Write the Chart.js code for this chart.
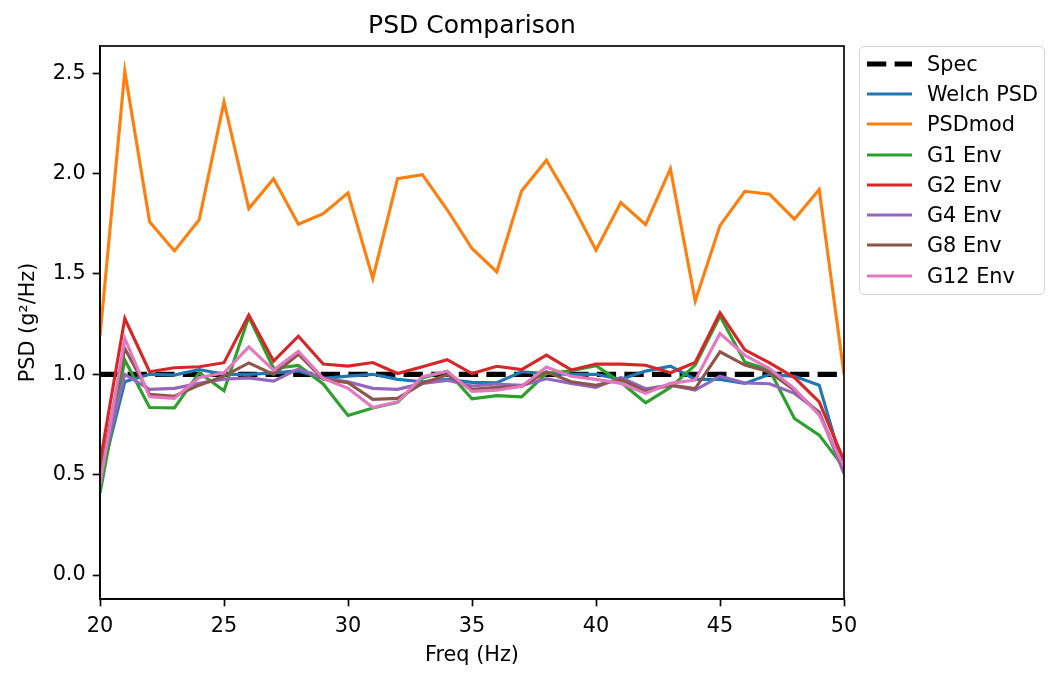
<!DOCTYPE html>
<html>
<head>
<meta charset="utf-8">
<script src="https://cdn.jsdelivr.net/npm/chart.js@4.4.1/dist/chart.umd.min.js"></script>
<style>
  html, body { margin: 0; padding: 0; background: #fff; }
  #wrap { position: relative; width: 1060px; height: 678px; }
  #legend { position: absolute; left: 859px; top: 46px; width: 184px; height: 247px;
            border: 1.5px solid #d4d4d4; border-radius: 5px; background: rgba(255,255,255,0.8);
            font-family: 'DejaVu Sans'; font-size: 20.8px; color: #000; }
  .row { position: absolute; left: 0; height: 30px; width: 184px; }
  .row svg { position: absolute; left: 6px; top: 0; }
  .row span { position: absolute; left: 67px; top: 2px; line-height: 26px; white-space: nowrap; }
</style>
</head>
<body>
<div id="wrap">
  <canvas id="c" width="1060" height="678"></canvas>
  <div id="legend"></div>
</div>
<script>
// ---- Data ----
const freqs = [20,21,22,23,24,25,26,27,28,29,30,31,32,33,34,35,36,37,38,39,40,41,42,43,44,45,46,47,48,49,50];
const specFreqs = [20, 50];
const specValues = [1.0, 1.0];
const welchPSD = [0.47,0.963,1.0,0.996,1.024,1.0,1.0,1.007,1.017,0.98,0.991,1.0,0.975,0.963,0.975,0.96,0.958,1.013,1.004,1.0,1.0,0.975,1.016,1.041,0.975,0.975,0.955,1.0,0.99,0.946,0.52];
const psdMod = [1.19,2.51,1.76,1.615,1.77,2.357,1.826,1.975,1.748,1.801,1.904,1.478,1.975,1.995,1.82,1.627,1.511,1.914,2.067,1.856,1.619,1.856,1.746,2.025,1.365,1.741,1.912,1.897,1.773,1.921,1.0];
const g1Env = [0.407,1.071,0.835,0.833,1.008,0.918,1.287,1.029,1.044,0.952,0.795,0.832,0.86,0.982,1.015,0.878,0.894,0.888,1.004,1.018,1.043,0.96,0.858,0.935,1.046,1.29,1.062,1.021,0.78,0.697,0.535];
const g2Env = [0.56,1.278,1.013,1.033,1.038,1.058,1.295,1.066,1.19,1.051,1.041,1.059,1.004,1.038,1.073,1.004,1.04,1.024,1.096,1.022,1.051,1.051,1.045,1.008,1.059,1.306,1.122,1.057,0.984,0.863,0.57];
const g4Env = [0.5,1.0,0.925,0.93,0.955,0.976,0.982,0.966,1.027,0.98,0.963,0.93,0.925,0.955,0.97,0.942,0.952,0.945,0.978,0.955,0.935,0.985,0.928,0.946,0.921,0.991,0.957,0.953,0.905,0.812,0.505];
const g8Env = [0.5,1.129,0.901,0.891,0.946,0.991,1.057,1.0,1.1,0.975,0.958,0.875,0.88,0.955,0.998,0.925,0.935,0.94,1.013,0.963,0.945,0.975,0.915,0.946,0.929,1.112,1.046,1.012,0.921,0.805,0.53];
const g12Env = [0.45,1.179,0.888,0.88,0.984,1.007,1.137,1.021,1.115,0.98,0.93,0.835,0.863,0.988,1.015,0.915,0.921,0.94,1.036,0.99,0.975,0.955,0.905,0.955,0.971,1.203,1.095,1.029,0.929,0.797,0.539];
const xTickValues = [20,25,30,35,40,45,50];
const yTickValues = [0.0,0.5,1.0,1.5,2.0,2.5];
const seriesLabels = ['Spec','Welch PSD','PSDmod','G1 Env','G2 Env','G4 Env','G8 Env','G12 Env'];

// ---- Styles ----
const colors = ['#000000','#1f77b4','#ff7f0e','#2ca02c','#d62728','#9467bd','#8c564b','#e377c2'];
const seriesValues = [specValues, welchPSD, psdMod, g1Env, g2Env, g4Env, g8Env, g12Env];
const LW = 3.125;

function pts(xs, ys) { return xs.map((x, i) => ({x: x, y: ys[i]})); }

const datasets = seriesLabels.map((lab, i) => ({
  label: lab,
  data: pts(i === 0 ? specFreqs : freqs, seriesValues[i]),
  borderColor: colors[i],
  backgroundColor: colors[i],
  borderWidth: i === 0 ? 5.2 : LW,
  borderDash: i === 0 ? [19.3, 8.3] : [],
  pointRadius: 0,
  tension: 0,
  fill: false,
  clip: 0,
  order: seriesLabels.length - i
}));

Chart.defaults.font.family = 'DejaVu Sans';
Chart.defaults.color = '#000';

const frame = {
  id: 'frame',
  afterDatasetsDraw(chart) {
    const a = chart.chartArea, ctx = chart.ctx;
    ctx.save();
    ctx.strokeStyle = '#000';
    ctx.lineWidth = 1.67;
    ctx.strokeRect(a.left, a.top, a.right - a.left, a.bottom - a.top);
    ctx.restore();
  }
};

new Chart(document.getElementById('c'), {
  type: 'line',
  data: { datasets: datasets },
  plugins: [frame],
  options: {
    responsive: false,
    animation: false,
    devicePixelRatio: 1,
    layout: { padding: { left: 0, right: 216, top: 0, bottom: 0 } },
    plugins: {
      legend: { display: false },
      tooltip: { enabled: false },
      title: {
        display: true, text: 'PSD Comparison', fullSize: false,
        font: { size: 25, weight: 'normal' }, color: '#000',
        padding: { top: 11, bottom: 5 }
      }
    },
    scales: {
      x: {
        type: 'linear', min: 20, max: 50,
        afterFit(s) { s.height = 79; },
        afterBuildTicks(s) { s.ticks = xTickValues.map(v => ({value: v})); },
        ticks: { font: { size: 20.8 }, color: '#000', padding: 8, maxRotation: 0, autoSkip: false,
                 callback: v => String(v) },
        grid: { drawOnChartArea: false, drawTicks: true, tickLength: 7.3, tickWidth: 1.67, tickColor: '#000' },
        border: { display: true, color: '#000', width: 1.67 },
        title: { display: true, text: 'Freq (Hz)', font: { size: 20.8 }, color: '#000', padding: { top: 0, bottom: 10 } }
      },
      y: {
        type: 'linear', min: -0.1195, max: 2.636,
        afterFit(s) { s.width = 100; },
        afterBuildTicks(s) { s.ticks = yTickValues.map(v => ({value: v})); },
        ticks: { font: { size: 20.8 }, color: '#000', padding: 7, includeBounds: false,
                 callback: v => Number(v).toFixed(1) },
        grid: { drawOnChartArea: false, drawTicks: true, tickLength: 7.3, tickWidth: 1.67, tickColor: '#000' },
        border: { display: true, color: '#000', width: 1.67 },
        title: { display: true, text: 'PSD (g²/Hz)', font: { size: 20.8 }, color: '#000', padding: { top: 16, bottom: 0 } }
      }
    }
  }
});

// ---- Legend (HTML text) ----
const legend = document.getElementById('legend');
const rowCenters = [17, 47, 77, 107.5, 138, 168, 198, 229];
seriesLabels.forEach((lab, i) => {
  const row = document.createElement('div');
  row.className = 'row';
  row.style.top = (rowCenters[i] - 15) + 'px';
  const dash = i === 0 ? ' stroke-dasharray="19.3 8.3"' : '';
  const w = i === 0 ? 5.2 : LW;
  row.innerHTML = '<svg width="48" height="30"><line x1="1" y1="15" x2="46" y2="15" stroke="' + colors[i] +
    '" stroke-width="' + w + '"' + dash + '/></svg><span>' + lab + '</span>';
  legend.appendChild(row);
});
</script>
</body>
</html>
